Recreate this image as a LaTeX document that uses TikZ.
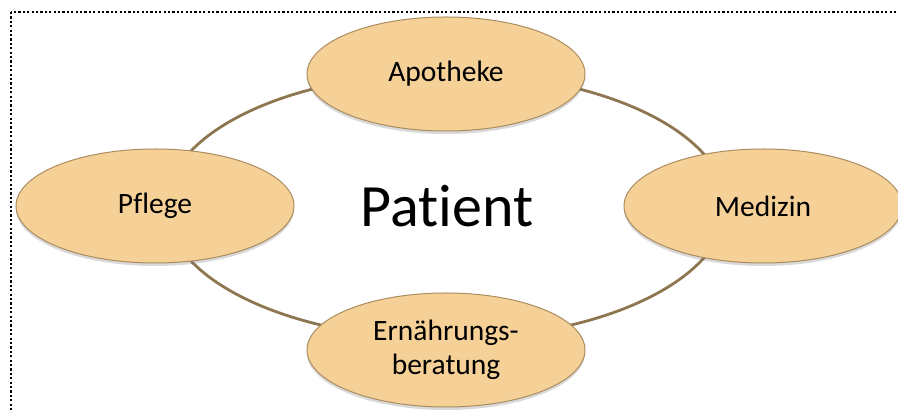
\documentclass[tikz,border=0pt]{standalone}
\usepackage{fontspec}
\setmainfont{Carlito}[Ligatures=CommonOff]
\usetikzlibrary{shapes.geometric,shadows}
\definecolor{ringcol}{RGB}{141,118,80}
\definecolor{fillcol}{RGB}{246,209,151}
\definecolor{edgecol}{RGB}{170,140,95}
\tikzset{
  ringshape/.style={ellipse, draw=ringcol, line width=2.8pt, minimum width=560pt, minimum height=266pt, inner sep=0pt},
  bubble/.style={ellipse, draw=edgecol, line width=1pt, fill=fillcol, minimum width=278pt, minimum height=114pt, inner sep=0pt, font=\fontsize{29.5}{34}\selectfont, align=center,
    drop shadow={shadow xshift=0pt, shadow yshift=-3pt, opacity=0.25, fill=black!60}},
  frame/.style={draw=black, line width=2.4pt, dash pattern=on 2.2pt off 2.2pt}
}
\begin{document}
\begin{tikzpicture}[x=1pt,y=-1pt]
\useasboundingbox (0,0) rectangle (898,411);
\clip (0,0) rectangle (898,411);
\draw[frame] (11,12) rectangle (920,430);
\node[ringshape] (ring) at (446,206) {};
\node[bubble] (apo) at (446,74) {Apotheke};
\node[bubble] (pfl) at (155,206) {Pflege};
\node[bubble] (med) at (763,206) {Medizin};
\node[bubble] (ern) at (446,350) {Ernährungs-\\beratung};
\node[font=\fontsize{60}{62}\selectfont] (pat) at (447,206) {Patient};
\end{tikzpicture}
\end{document}
